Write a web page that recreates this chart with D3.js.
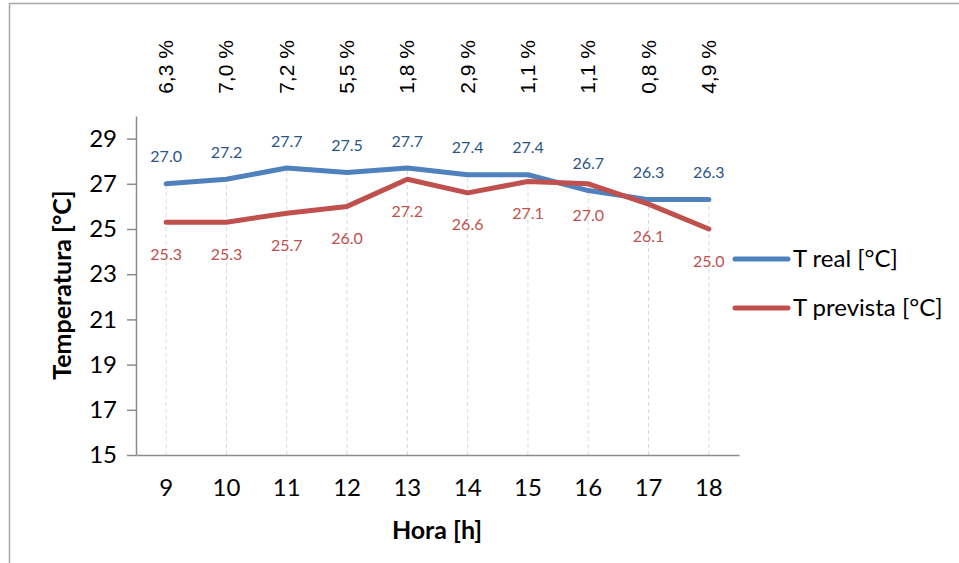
<!DOCTYPE html>
<html>
<head>
<meta charset="utf-8">
<script src="https://cdn.jsdelivr.net/npm/d3@7"></script>
<style>
  body { margin: 0; background: #fff; }
  svg { display: block; }
</style>
</head>
<body>
<div id="canva"></div>
<script>
const horas = [9, 10, 11, 12, 13, 14, 15, 16, 17, 18];
const tReal = [27.0, 27.2, 27.7, 27.5, 27.7, 27.4, 27.4, 26.7, 26.3, 26.3];
const tPrevista = [25.3, 25.3, 25.7, 26.0, 27.2, 26.6, 27.1, 27.0, 26.1, 25.0];
const errores = ['6,3 %', '7,0 %', '7,2 %', '5,5 %', '1,8 %', '2,9 %', '1,1 %', '1,1 %', '0,8 %', '4,9 %'];
const yTicks = [15, 17, 19, 21, 23, 25, 27, 29];

const width = 959, height = 563;
const plotLeft = 136, plotRight = 739, plotTop = 116, plotBottom = 455;

const svg = d3.select('#canva').append('svg')
    .attr('width', width)
    .attr('height', height);

// chart frame
svg.append('rect')
    .attr('x', 9.5).attr('y', 3.5)
    .attr('width', 1000).attr('height', 700)
    .attr('fill', 'none')
    .attr('stroke', '#a6a6a6')
    .attr('stroke-width', 1.5);

const x = d3.scaleBand()
    .domain(horas)
    .range([plotLeft, plotRight]);

const y = d3.scaleLinear()
    .domain([15, 30])
    .range([plotBottom, plotTop]);

const cx = d => x(d) + x.bandwidth() / 2;
const font = 'Lato, "Open Sans", sans-serif';

// drop lines
svg.append('g').selectAll('line')
    .data(horas)
    .enter()
    .append('line')
    .attr('x1', d => cx(d)).attr('x2', d => cx(d))
    .attr('y1', plotBottom)
    .attr('y2', (d, i) => y(Math.max(tReal[i], tPrevista[i])))
    .attr('stroke', '#d9d9d9')
    .attr('stroke-width', 1)
    .attr('stroke-dasharray', '4,3');

// y axis
const yAxis = svg.append('g')
    .attr('transform', `translate(${plotLeft},0)`)
    .call(d3.axisLeft(y).tickValues(yTicks).tickSize(9).tickPadding(10).tickSizeOuter(0));
yAxis.select('.domain').attr('stroke', '#8c8c8c').attr('stroke-width', 1.5);
yAxis.selectAll('.tick line').attr('stroke', '#8c8c8c').attr('stroke-width', 1.5);
yAxis.selectAll('.tick text')
    .attr('font-family', font)
    .attr('font-size', 24)
    .attr('fill', '#000');

// x axis
const xAxis = svg.append('g')
    .attr('transform', `translate(0,${plotBottom})`)
    .call(d3.axisBottom(x).tickSize(0).tickPadding(24));
xAxis.select('.domain').attr('stroke', '#8c8c8c').attr('stroke-width', 1.5);
xAxis.selectAll('.tick text')
    .attr('font-family', font)
    .attr('font-size', 24)
    .attr('fill', '#000');

// axis titles
svg.append('text')
    .attr('transform', `translate(71,285) rotate(-90)`)
    .attr('text-anchor', 'middle')
    .attr('font-family', font)
    .attr('font-weight', 'bold')
    .attr('font-size', 25)
    .text('Temperatura [°C]');

svg.append('text')
    .attr('x', 437).attr('y', 539)
    .attr('text-anchor', 'middle')
    .attr('font-family', font)
    .attr('font-weight', 'bold')
    .attr('font-size', 25)
    .text('Hora [h]');

// error percentages
svg.append('g').selectAll('text')
    .data(horas)
    .enter()
    .append('text')
    .attr('transform', d => `translate(${cx(d) + 7},67) rotate(-90)`)
    .attr('text-anchor', 'middle')
    .attr('font-family', '"Liberation Sans Narrow", "Arial Narrow", "Liberation Sans", sans-serif')
    .attr('font-size', 21)
    .attr('fill', '#000')
    .text((d, i) => errores[i]);

const line = d3.line()
    .x((d, i) => cx(horas[i]))
    .y(d => y(d));

const series = [
    { name: 'T real [°C]', values: tReal, color: '#4f81bd', label: '#2c5486', dy: -27 },
    { name: 'T prevista [°C]', values: tPrevista, color: '#c0504d', label: '#c0504d', dy: 32 }
];

series.forEach(s => {
    svg.append('path')
        .datum(s.values)
        .attr('d', line)
        .attr('fill', 'none')
        .attr('stroke', s.color)
        .attr('stroke-width', 5)
        .attr('stroke-linejoin', 'round')
        .attr('stroke-linecap', 'round');
});

series.forEach(s => {
    svg.append('g').selectAll('text')
        .data(s.values)
        .enter()
        .append('text')
        .attr('x', (d, i) => cx(horas[i]))
        .attr('y', d => y(d) + s.dy)
        .attr('dy', '0.35em')
        .attr('text-anchor', 'middle')
        .attr('font-family', font)
        .attr('font-size', 16)
        .attr('fill', s.label)
        .text(d => d.toFixed(1));
});

// legend
const legend = svg.append('g').selectAll('g')
    .data(series)
    .enter()
    .append('g')
    .attr('transform', (d, i) => `translate(735,${259 + i * 49})`);

legend.append('line')
    .attr('x1', 0).attr('x2', 53)
    .attr('stroke', d => d.color)
    .attr('stroke-width', 5)
    .attr('stroke-linecap', 'round');

legend.append('text')
    .attr('x', 58)
    .attr('dy', '0.35em')
    .attr('font-family', font)
    .attr('font-size', 24)
    .attr('fill', '#000')
    .text(d => d.name);
</script>
</body>
</html>
